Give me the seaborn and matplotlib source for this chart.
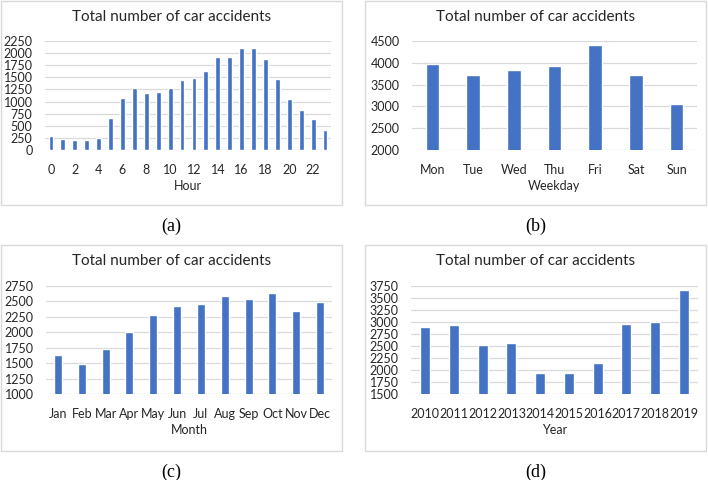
import matplotlib
matplotlib.use('Agg')
import matplotlib.pyplot as plt
import seaborn as sns
import pandas as pd
from matplotlib.patches import Rectangle

# Data
hours = list(range(24))
hour_counts = [290, 228, 194, 194, 249, 651, 1066, 1274, 1170, 1205, 1281, 1447,
               1482, 1634, 1918, 1918, 2119, 2105, 1884, 1468, 1052, 824, 637, 415]

weekdays = ['Mon', 'Tue', 'Wed', 'Thu', 'Fri', 'Sat', 'Sun']
weekday_counts = [3985, 3731, 3831, 3923, 4408, 3715, 3054]

months = ['Jan', 'Feb', 'Mar', 'Apr', 'May', 'Jun', 'Jul', 'Aug', 'Sep', 'Oct', 'Nov', 'Dec']
month_counts = [1633, 1494, 1725, 2009, 2272, 2428, 2460, 2589, 2530, 2632, 2342, 2492]

years = ['2010', '2011', '2012', '2013', '2014', '2015', '2016', '2017', '2018', '2019']
year_counts = [2892, 2947, 2532, 2560, 1936, 1943, 2158, 2961, 3003, 3660]

sns.set_style('white')
plt.rcParams['font.family'] = ['Lato', 'DejaVu Sans']

BLUE = '#4472C4'
GRID = '#D9D9D9'
TXT = '#262626'
W, H = 708, 480

fig = plt.figure(figsize=(7.08, 4.8), dpi=100)


def px_axes(x0, x1, ytop, ybot):
    return fig.add_axes([x0 / W, 1 - ybot / H, (x1 - x0) / W, (ybot - ytop) / H])


def panel(box, area, cats, vals, xlabel, ylo, yhi, ystep, bar_w, caption, tick_every=1):
    bx0, by0, bx1, by1 = box
    fig.patches.append(Rectangle((bx0 / W, 1 - by1 / H), (bx1 - bx0) / W, (by1 - by0) / H,
                                 transform=fig.transFigure, fill=False,
                                 edgecolor=GRID, linewidth=1.0))
    ax = px_axes(*area)
    df = pd.DataFrame({'cat': [str(c) for c in cats], 'val': vals})
    sns.barplot(data=df, x='cat', y='val', color=BLUE, width=bar_w, ax=ax,
                saturation=1, zorder=3)
    ax.set_ylim(ylo, yhi)
    ax.set_yticks(range(ylo, yhi + 1, ystep))
    ax.yaxis.grid(True, color=GRID, linewidth=0.9, zorder=0)
    ax.set_axisbelow(True)
    for s in ax.spines.values():
        s.set_visible(False)
    ax.tick_params(axis='both', length=0, labelsize=9, colors=TXT)
    ax.tick_params(axis='y', pad=9)
    ax.tick_params(axis='x', pad=10)
    ticks = list(range(0, len(cats), tick_every))
    ax.set_xticks(ticks)
    ax.set_xticklabels([str(cats[i]) for i in ticks])
    ax.set_ylabel('')
    ax.set_xlabel(xlabel, fontsize=9, color=TXT)
    h = area[3] - area[2]
    ax.xaxis.set_label_coords(0.5, -36 / h)
    ax.xaxis.label.set_va('center')
    cx = (bx0 + bx1) / 2
    fig.text(cx / W, 1 - (by0 + 16) / H, 'Total number of car accidents',
             ha='center', va='center', fontsize=11, color=TXT)
    fig.text(cx / W, 1 - (by1 + 21) / H, caption, ha='center', va='center',
             fontsize=13, family='Liberation Serif', color='black')
    return ax


panel((1, 1, 342, 205), (45, 331, 41.3, 149.7), hours, hour_counts, 'Hour',
      0, 2250, 250, 0.4, '(a)', tick_every=2)
panel((365, 1, 706, 205), (412, 697, 41.3, 149.7), weekdays, weekday_counts, 'Weekday',
      2000, 4500, 500, 0.33, '(b)')
panel((1, 245, 342, 451), (46, 332, 285.7, 394.3), months, month_counts, 'Month',
      1000, 2750, 250, 0.34, '(c)')
panel((365, 245, 706, 451), (411, 698, 286, 394.3), years, year_counts, 'Year',
      1500, 3750, 250, 0.35, '(d)')

fig.savefig('out.png', dpi=100)
